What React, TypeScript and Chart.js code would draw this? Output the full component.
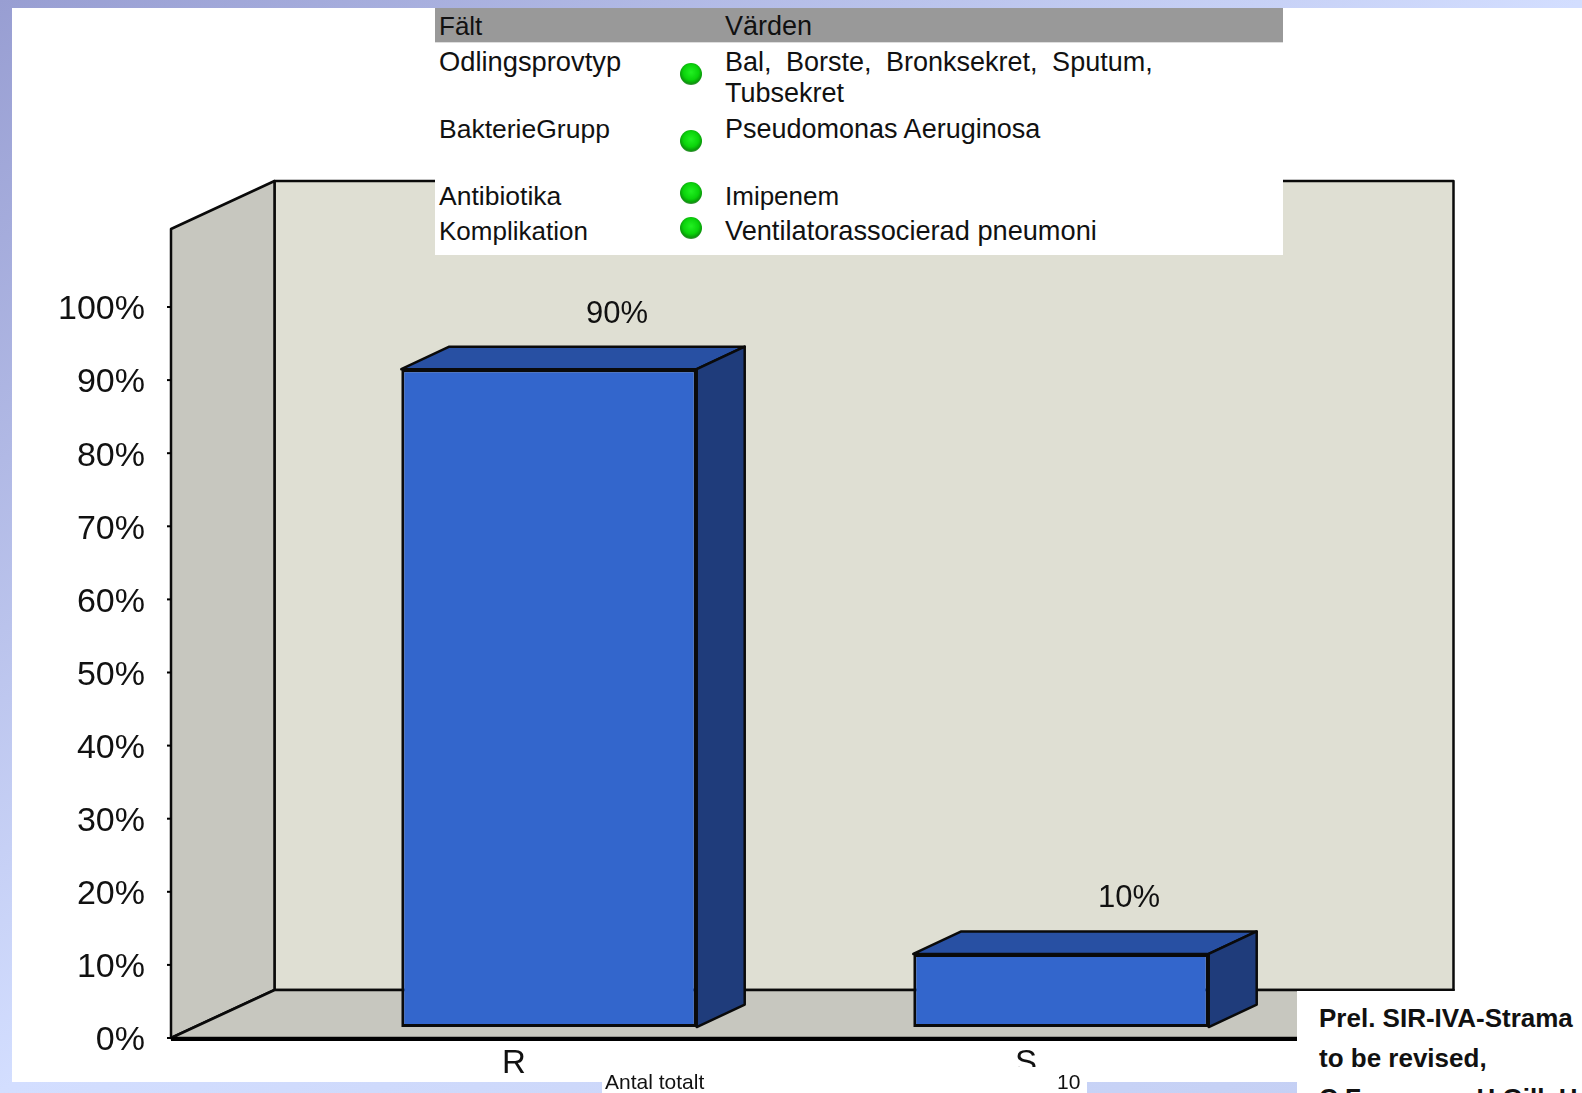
import React, { useEffect, useRef } from "react";
import { Chart, registerables } from "chart.js";

Chart.register(...registerables);

const CATEGORIES = ["R", "S"];
const RESISTANCE_VALUES = [90, 10];
const VALUE_LABELS = ["90%", "10%"];

const FILTER_FIELDS = ["Odlingsprovtyp", "BakterieGrupp", "Antibiotika", "Komplikation"];
const FILTER_VALUES = [
  ["Bal, Borste, Bronksekret, Sputum,", "Tubsekret"],
  ["Pseudomonas Aeruginosa"],
  ["Imipenem"],
  ["Ventilatorassocierad pneumoni"],
];
const NOTE_LINES = ["Prel. SIR-IVA-Strama", "to be revised,", "C Fransson, H Gill, H"];

const FONT = '"Liberation Sans", Arial, sans-serif';
const W = 1582;
const H = 1093;

// chart geometry (px)
const WALL_DX = 103.5;
const WALL_DY = 48;
const BAR_DX = 48;
const BAR_DY = 22.5;
const FRONT_LEFT = 171;
const FRONT_RIGHT = 1350;
const WALL_TOP = 181;

function poly(ctx: CanvasRenderingContext2D, pts: number[][], fill: string, lw = 2.5) {
  ctx.beginPath();
  pts.forEach(([x, y], i) => (i ? ctx.lineTo(x, y) : ctx.moveTo(x, y)));
  ctx.closePath();
  ctx.fillStyle = fill;
  ctx.fill();
  ctx.lineWidth = lw;
  ctx.strokeStyle = "#0a0a0a";
  ctx.lineJoin = "round";
  ctx.stroke();
}

const walls3d = {
  id: "walls3d",
  beforeDatasetsDraw(chart: any) {
    const ctx = chart.ctx;
    const y = chart.scales.y;
    const base = y.getPixelForValue(0);
    const backBase = base - WALL_DY;
    const backLeft = FRONT_LEFT + WALL_DX;
    const backRight = FRONT_RIGHT + WALL_DX;
    const frontTop = WALL_TOP + WALL_DY;
    ctx.save();
    poly(ctx, [[backLeft, WALL_TOP], [backRight, WALL_TOP], [backRight, backBase], [backLeft, backBase]], "#dfdfd3");
    poly(ctx, [[FRONT_LEFT, frontTop], [backLeft, WALL_TOP], [backLeft, backBase], [FRONT_LEFT, base]], "#c7c7bf");
    poly(ctx, [[FRONT_LEFT, base], [backLeft, backBase], [backRight, backBase], [FRONT_RIGHT, base]], "#c7c7bf");
    ctx.fillStyle = "#000";
    ctx.fillRect(FRONT_LEFT, base - 1, FRONT_RIGHT - FRONT_LEFT, 4);
    y.ticks.forEach((t: any) => {
      ctx.fillRect(FRONT_LEFT - 4, y.getPixelForValue(t.value) - 1, 4, 2);
    });
    ctx.restore();
  },
  afterDatasetsDraw(chart: any) {
    const ctx = chart.ctx;
    ctx.save();
    chart.getDatasetMeta(0).data.forEach((bar: any, i: number) => {
      const l = bar.x - bar.width / 2;
      const r = bar.x + bar.width / 2;
      const t = bar.y;
      const b = bar.base;
      poly(ctx, [[l, t], [l + BAR_DX, t - BAR_DY], [r + BAR_DX, t - BAR_DY], [r, t]], "#2850a3");
      poly(ctx, [[r, t], [r + BAR_DX, t - BAR_DY], [r + BAR_DX, b - BAR_DY], [r, b]], "#1f3c7b");
      ctx.fillStyle = "#111";
      ctx.font = `31px ${FONT}`;
      ctx.textAlign = "center";
      ctx.textBaseline = "middle";
      ctx.fillText(VALUE_LABELS[i], bar.x + 68, t - 55);
    });
    ctx.restore();
  },
};

function Text({ x, cy, size = 27, bold = false, wordSpacing = 0, children }: any) {
  return (
    <div
      style={{
        position: "absolute",
        left: x,
        top: cy - 20,
        height: 40,
        lineHeight: "40px",
        fontFamily: FONT,
        fontSize: size,
        fontWeight: bold ? 700 : 400,
        wordSpacing,
        color: "#111",
        whiteSpace: "nowrap",
      }}
    >
      {children}
    </div>
  );
}

function Dot({ cy }: { cy: number }) {
  return (
    <div
      style={{
        position: "absolute",
        left: 680,
        top: cy - 11,
        width: 22,
        height: 22,
        borderRadius: "50%",
        background:
          "radial-gradient(circle at 50% 42%, #22f022 0%, #0bd40b 45%, #0a9a0a 66%, #7c8a7c 86%, rgba(190,190,190,0.6) 100%)",
      }}
    />
  );
}

const ROW_CY = [62, 129, 196, 231];
const DOT_CY = [74, 141, 193, 228];
const FIELD_SIZES = [27.3, 26.5, 26.5, 26];
const VALUE_SIZES = [27, 27, 26, 27.2];

export default function App() {
  const ref = useRef<HTMLCanvasElement>(null);

  useEffect(() => {
    const chart = new Chart(ref.current as HTMLCanvasElement, {
      type: "bar",
      data: {
        labels: CATEGORIES,
        datasets: [
          {
            data: RESISTANCE_VALUES,
            yAxisID: "yBars",
            backgroundColor: "#3366cc",
            borderColor: "#0a0a0a",
            borderWidth: 3,
            borderSkipped: false,
            categoryPercentage: 1,
            barPercentage: 0.577,
          },
        ],
      },
      options: {
        animation: false,
        responsive: false,
        devicePixelRatio: 1,
        layout: { padding: { left: 0, top: 307, right: W - 1317, bottom: 0 } },
        plugins: { legend: { display: false }, title: { display: false }, tooltip: { enabled: false } },
        scales: {
          x: {
            grid: { display: false, drawTicks: false },
            border: { display: false },
            afterFit: (s: any) => {
              s.height = H - 1038;
            },
            ticks: {
              labelOffset: -35,
              padding: 6,
              color: "#111",
              maxRotation: 0,
              font: { family: "Liberation Sans", size: 33 },
            },
          },
          y: {
            min: 0,
            max: 100,
            grid: { display: false, drawTicks: false },
            border: { display: false },
            afterFit: (s: any) => {
              s.width = 293;
              s.paddingTop = 0;
              s.paddingBottom = 0;
            },
            ticks: {
              stepSize: 10,
              padding: 148,
              labelOffset: 3,
              color: "#111",
              font: { family: "Liberation Sans", size: 34 },
              callback: (v: any) => `${v}%`,
            },
          },
          yBars: {
            display: false,
            min: -1.5,
            max: 98.5,
          },
        },
      },
      plugins: [walls3d],
    } as any);
    return () => chart.destroy();
  }, []);

  return (
    <div
      style={{
        position: "fixed",
        left: 0,
        top: 0,
        width: W,
        height: H,
        overflow: "hidden",
        background: "linear-gradient(to bottom right, #989ed2 0%, #d3deff 50%, #c2cdf2 100%)",
      }}
    >
      <div style={{ position: "absolute", left: 12, top: 8, width: W - 12, height: 1074, background: "#fff" }} />
      <canvas
        ref={ref}
        width={W}
        height={H}
        style={{ position: "absolute", left: 0, top: 0, width: W, height: H, display: "block" }}
      />
      {/* filter table */}
      <div style={{ position: "absolute", left: 435, top: 8, width: 848, height: 247, background: "#fff" }} />
      <div style={{ position: "absolute", left: 435, top: 8, width: 848, height: 34, background: "#999" }} />
      <div style={{ position: "absolute", left: 435, top: 42, width: 848, height: 1, background: "#ddd" }} />
      <Text x={439} cy={26} size={26}>Fält</Text>
      <Text x={725} cy={26}>Värden</Text>
      {FILTER_FIELDS.map((f, i) => (
        <React.Fragment key={f}>
          <Text x={439} cy={ROW_CY[i]} size={FIELD_SIZES[i]}>{f}</Text>
          <Dot cy={DOT_CY[i]} />
          {FILTER_VALUES[i].map((line, j) => (
            <Text key={line} x={725} cy={ROW_CY[i] + j * 31} size={VALUE_SIZES[i]} wordSpacing={i === 0 && j === 0 ? 7 : 0}>{line}</Text>
          ))}
        </React.Fragment>
      ))}
      {/* totals row */}
      <div style={{ position: "absolute", left: 602, top: 1067, width: 485, height: 26, background: "#fff" }} />
      <Text x={605} cy={1082} size={21}>Antal totalt</Text>
      <Text x={1057} cy={1082} size={21}>10</Text>
      {/* note */}
      <div style={{ position: "absolute", left: 1297, top: 991, width: 285, height: 102, background: "#fff" }} />
      {NOTE_LINES.map((line, i) => (
        <Text key={line} x={1319} cy={1018 + i * 40} size={26} bold>{line}</Text>
      ))}
    </div>
  );
}
